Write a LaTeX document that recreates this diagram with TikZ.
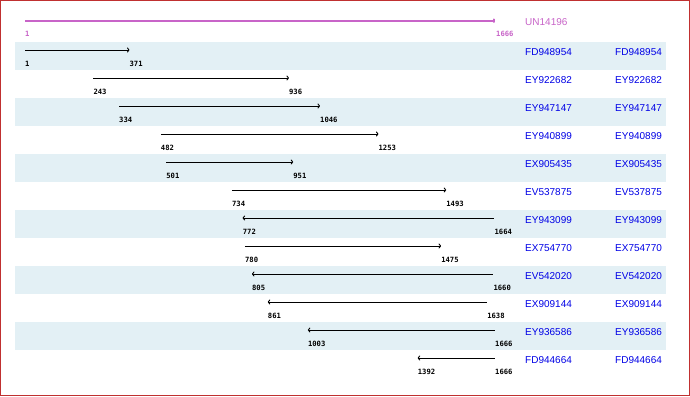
\documentclass[tikz,border=0pt]{standalone}
\usepackage{fontspec}
\setmainfont{Liberation Sans}
\newfontfamily\monof{DejaVu Sans Mono}
\usetikzlibrary{arrows.meta}
\definecolor{bandc}{RGB}{227,240,245}
\definecolor{framec}{RGB}{192,48,48}
\definecolor{magc}{RGB}{200,100,200}
\definecolor{namec}{RGB}{0,0,230}
\begin{document}
\begin{tikzpicture}[x=1pt,y=-1pt,
  numlab/.style={anchor=west,inner sep=0pt,font=\monof\bfseries\fontsize{7.2}{8}\selectfont},
  namelab/.style={anchor=west,inner sep=0pt,text=namec,font=\fontsize{10}{12}\selectfont},
  hit/.style={line width=0.9pt,black},
  fwd/.style={-{To[length=2.5pt,width=5pt]}},
  rev/.style={{To[length=2.5pt,width=5pt]}-}]
\useasboundingbox (0,0) rectangle (690,396);
\fill[white] (0,0) rectangle (690,396);
\draw[framec,line width=1pt] (0.5,0.5) rectangle (689.5,395.5);
% bands
\foreach \i in {1,3,5,7,9,11}{
  \fill[bandc] (15,{42+(\i-1)*28}) rectangle (666,{70+(\i-1)*28});
}
% query
\coordinate (q0) at (25,20.7);
\coordinate (q1) at (495,20.7);
\draw[magc,line width=1.8pt,-{To[length=2pt,width=4.5pt]}] (q0) -- (q1);
\node[numlab,text=magc] (ql0) at (25,34) {1};
\node[numlab,text=magc] (ql1) at (496,34) {1666};
\node[namelab,text=magc] (qn) at (525,22) {UN14196};
% hits
\foreach \i/\a/\b/\dir/\nm in {
  1/1/371/fwd/FD948954,
  2/243/936/fwd/EY922682,
  3/334/1046/fwd/EY947147,
  4/482/1253/fwd/EY940899,
  5/501/951/fwd/EX905435,
  6/734/1493/fwd/EV537875,
  7/772/1664/rev/EY943099,
  8/780/1475/fwd/EX754770,
  9/805/1660/rev/EV542020,
  10/861/1638/rev/EX909144,
  11/1003/1666/rev/EY936586,
  12/1392/1666/rev/FD944664}{
  \pgfmathsetmacro\xa{25+(\a-1)/1665*470}
  \pgfmathsetmacro\xb{25+(\b-1)/1665*470}
  \pgfmathsetmacro\ya{50+(\i-1)*28}
  \coordinate (s\i) at (\xa,\ya);
  \coordinate (e\i) at (\xb,\ya);
  \draw[hit,\dir] (s\i) -- (e\i);
  \node[numlab] (la\i) at (\xa,{64+(\i-1)*28}) {\a};
  \node[numlab] (lb\i) at (\xb,{64+(\i-1)*28}) {\b};
  \node[namelab] (n\i) at (525,{52+(\i-1)*28}) {\nm};
  \node[namelab] (m\i) at (615,{52+(\i-1)*28}) {\nm};
}
\end{tikzpicture}
\end{document}
